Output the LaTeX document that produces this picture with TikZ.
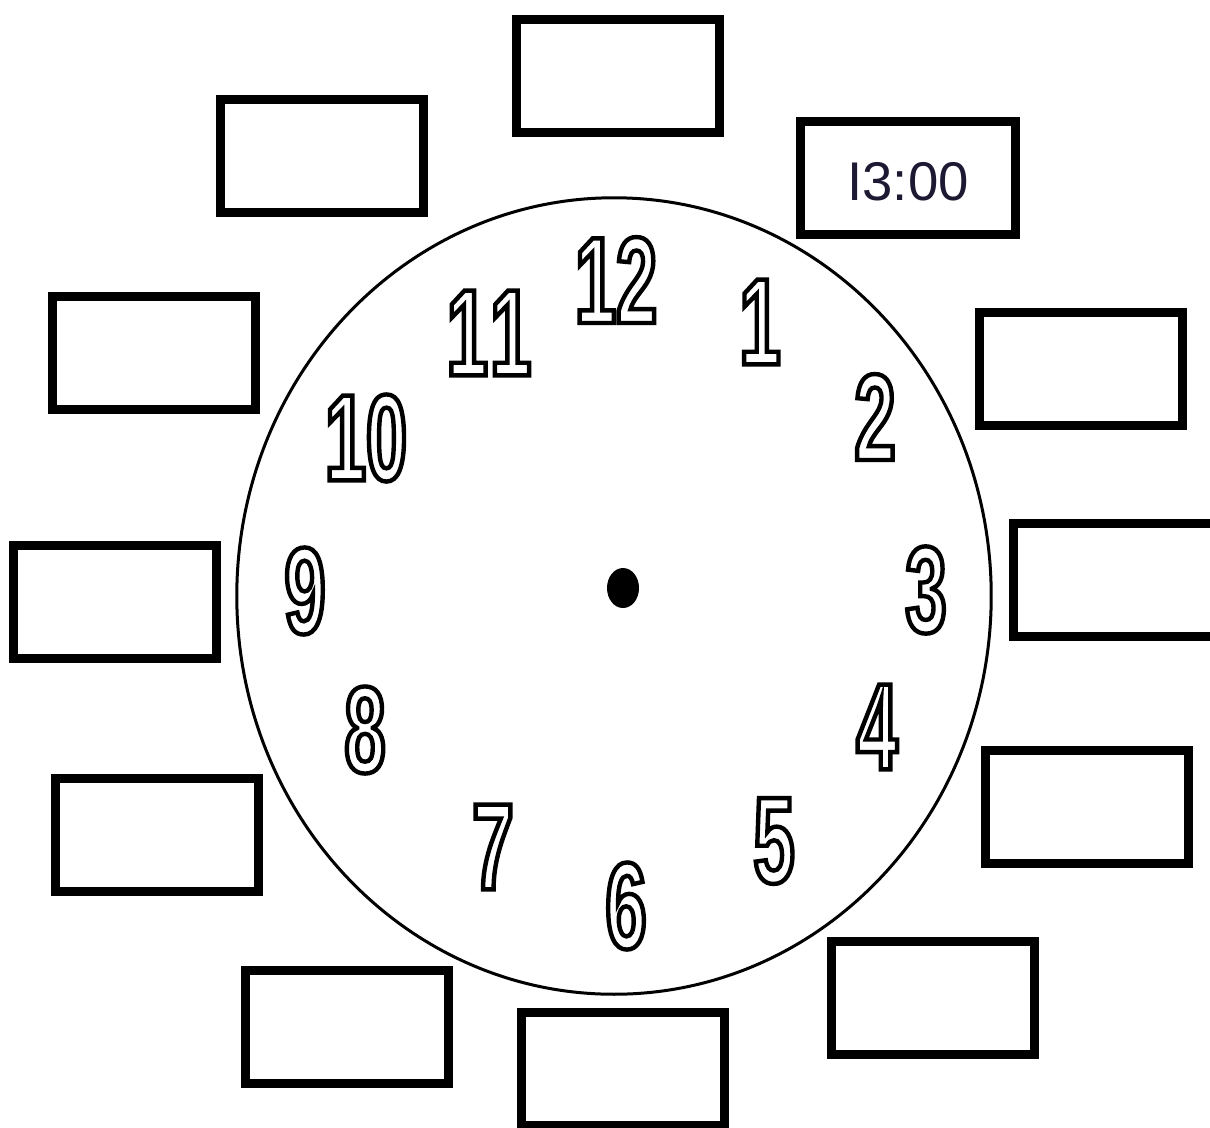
\documentclass[tikz,border=0pt]{standalone}
\usepackage{fontspec}
\usepackage{xcolor}
\usepackage{tikz}
\usetikzlibrary{positioning}
\newfontfamily\numfont[FakeStretch=0.6]{Liberation Sans}
\newfontfamily\timefont{Liberation Sans}
\definecolor{timeink}{RGB}{30,25,50}
\newcommand{\hollow}[1]{\special{pdf:literal direct 1 Tr 1.25 w}#1\special{pdf:literal direct 0 Tr}}

\begin{document}
\begin{tikzpicture}[x=0.01cm, y=-0.01cm,
  slot/.style={draw, line width=0.09cm, minimum width=2.03cm,
    minimum height=1.12cm, inner sep=0pt},
  numeral/.style={inner sep=0pt,
    font=\numfont\bfseries\fontsize{35}{35}\selectfont},
  timelabel/.style={font=\timefont\fontsize{15.5}{16}\selectfont, text=timeink}
]
\useasboundingbox (0,0) rectangle (1210,1127);
\clip (0,0) rectangle (1210,1127);

% Clock face
\draw[line width=0.03cm] (614,596) ellipse [x radius=3.77cm, y radius=3.98cm];
\coordinate (hub) at (623,588);
\fill (hub) ellipse [x radius=0.16cm, y radius=0.2cm];

% Numerals
\node[numeral] (n12) at (616,280) {\hollow{12}};
\node[numeral] (n1) at (760,322) {\hollow{1}};
\node[numeral] (n2) at (875,417) {\hollow{2}};
\node[numeral] (n3) at (926,590) {\hollow{3}};
\node[numeral] (n4) at (877,727) {\hollow{4}};
\node[numeral] (n5) at (774,841) {\hollow{5}};
\node[numeral] (n6) at (626,906) {\hollow{6}};
\node[numeral] (n7) at (493,847) {\hollow{7}};
\node[numeral] (n8) at (365,730) {\hollow{8}};
\node[numeral] (n9) at (305,591) {\hollow{9}};
\node[numeral] (n10) at (366,438) {\hollow{10}};
\node[numeral] (n11) at (489,333) {\hollow{1\kern0.025cm 1}};

% Answer boxes
\node[slot] (b12) at (618,76) {};
\node[slot] (b11) at (322,156) {};
\node[slot, minimum width=2.15cm] (b1) at (908,178) {};
\node[timelabel] (t1) at (908,182) {I3:00};
\node[slot] (b10) at (154,353) {};
\node[slot] (b2) at (1081,369) {};
\node[slot] (b9) at (115,602) {};
\node[slot] (b3) at (1115,580) {};
\node[slot] (b8) at (157,835) {};
\node[slot] (b4) at (1087,807) {};
\node[slot] (b7) at (347,1027) {};
\node[slot] (b6) at (623,1069) {};
\node[slot] (b5) at (933,998) {};

\end{tikzpicture}
\end{document}
